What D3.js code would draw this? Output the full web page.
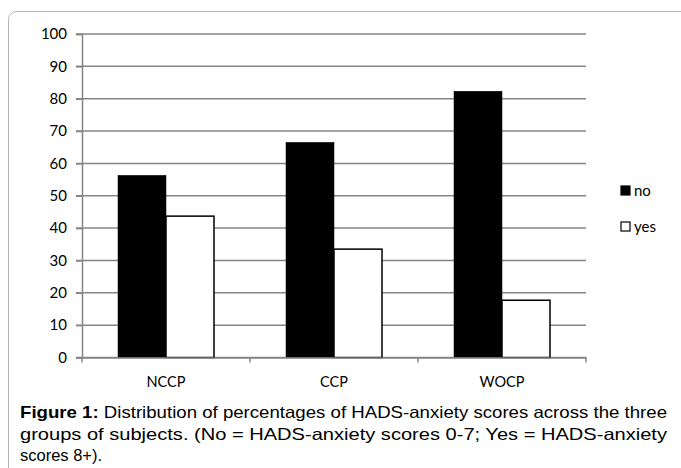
<!DOCTYPE html>
<html><head><meta charset="utf-8">
<script src="https://cdn.jsdelivr.net/npm/d3@7"></script>
<style>body{margin:0;background:#fff}svg{display:block}</style>
</head><body>
<script>
const categories = ["NCCP", "CCP", "WOCP"];
const seriesNames = ["no", "yes"];
const noValues = [56.3, 66.5, 82.3];
const yesValues = [43.7, 33.5, 17.7];
const yTicks = [0,10,20,30,40,50,60,70,80,90,100];
const captionLines = [
  ["Figure 1:", " Distribution of percentages of HADS-anxiety scores across the three"],
  ["", "groups of subjects. (No = HADS-anxiety scores 0-7; Yes = HADS-anxiety"],
  ["", "scores 8+)."]
];

const W = 681, H = 468;
const svg = d3.select("body").append("svg").attr("width", W).attr("height", H);

svg.append("rect").attr("x", 8.5).attr("y", 11.5).attr("width", 700).attr("height", 500)
  .attr("rx", 8).attr("fill", "none").attr("stroke", "#b4b4b4").attr("stroke-width", 1);

const x0 = d3.scaleBand().domain(categories).range([82, 586]).paddingInner(0).paddingOuter(0);
const x1 = d3.scaleBand().domain(seriesNames).range([0, x0.bandwidth()]).paddingInner(0).paddingOuter(0.75);
const y = d3.scaleLinear().domain([0, 100]).range([357.5, 34]);

const grey = "#868686";
const lab = "Lato, 'Open Sans', sans-serif";
svg.append("g").selectAll("line").data(yTicks).join("line")
  .attr("x1", 76).attr("x2", 586).attr("y1", d => y(d)).attr("y2", d => y(d))
  .attr("stroke", grey).attr("stroke-width", 1.5);

const yAxis = d3.axisLeft(y).tickValues(yTicks).tickSize(6).tickPadding(9);
const ga = svg.append("g").attr("transform", "translate(82,0)").call(yAxis);
ga.select(".domain").attr("stroke", grey).attr("stroke-width", 1.5);
ga.selectAll(".tick line").attr("stroke", grey).attr("stroke-width", 1.5);
ga.selectAll("text").attr("font-family", lab).attr("font-size", 15).attr("fill", "#000");

const rows = categories.map((c, i) => ({cat: c, vals: [{s: "no", v: noValues[i]}, {s: "yes", v: yesValues[i]}]}));
const grp = svg.append("g").selectAll("g").data(rows).join("g")
  .attr("transform", d => `translate(${x0(d.cat)},0)`);
grp.selectAll("rect").data(d => d.vals).join("rect")
  .attr("x", d => x1(d.s)).attr("width", x1.bandwidth())
  .attr("y", d => y(d.v)).attr("height", d => y(0) - y(d.v))
  .attr("fill", d => d.s === "no" ? "#000" : "#fff")
  .attr("stroke", "#000").attr("stroke-width", d => d.s === "no" ? 0.5 : 1.5);

const xAxis = d3.axisBottom(x0).tickSize(0).tickPadding(19);
const gx = svg.append("g").attr("transform", `translate(0,${y(0)})`).call(xAxis);
gx.select(".domain").attr("stroke", grey).attr("stroke-width", 1.5);
gx.selectAll("text").attr("font-family", lab).attr("font-size", 14.5).attr("fill", "#000");
svg.append("g").selectAll("line").data([0,1,2,3]).join("line")
  .attr("x1", d => 82 + d * x0.step()).attr("x2", d => 82 + d * x0.step())
  .attr("y1", y(0)).attr("y2", y(0) + 5).attr("stroke", grey).attr("stroke-width", 1.5);

const lg = svg.append("g").selectAll("g").data(seriesNames).join("g")
  .attr("transform", (d, i) => `translate(621,${186 + i * 36})`);
lg.append("rect").attr("width", 9).attr("height", 9)
  .attr("fill", d => d === "no" ? "#000" : "#fff").attr("stroke", "#000").attr("stroke-width", 1.2);
lg.append("text").attr("x", 13).attr("y", 10).text(d => d)
  .attr("font-family", lab).attr("font-size", 15).attr("fill", "#000");

const cap = svg.append("g").attr("font-family", "'Liberation Sans', Arial, sans-serif")
  .attr("font-size", 16.5).attr("fill", "#000");
captionLines.forEach((ln, i) => {
  const t = cap.append("text").attr("x", 20).attr("y", 418 + i * 21.5);
  if (i < 2) t.attr("textLength", 647).attr("lengthAdjust", "spacingAndGlyphs");
  if (ln[0]) t.append("tspan").attr("font-weight", "bold").text(ln[0]);
  t.append("tspan").text(ln[1]);
});
</script>
</body></html>
